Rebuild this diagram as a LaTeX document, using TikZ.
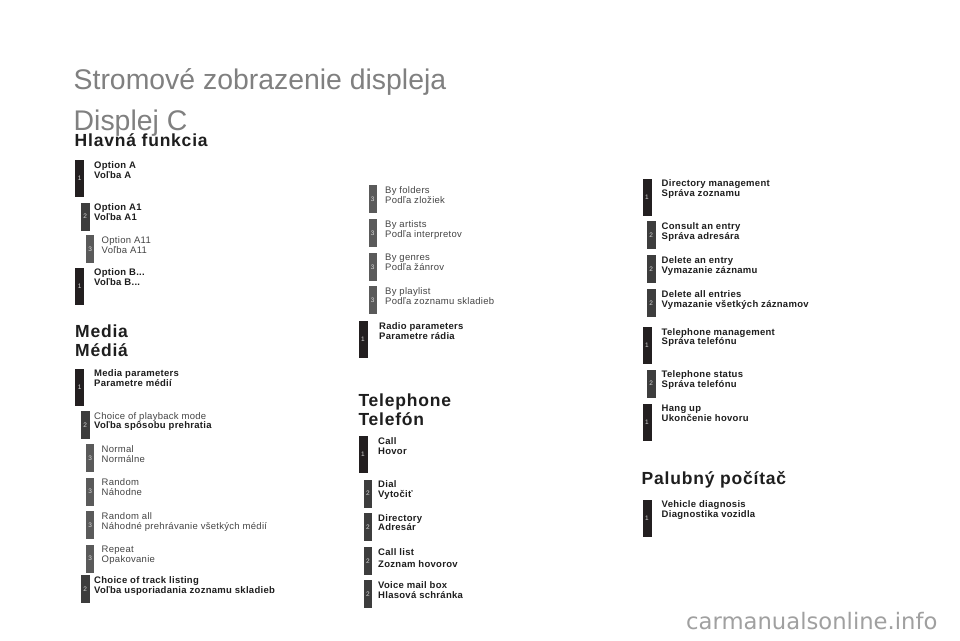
\documentclass[tikz,border=0pt]{standalone}
\usepackage{fontspec}
\setmainfont{Liberation Sans}
\newfontfamily\itemfont[LetterSpace=3]{Liberation Sans}
\newfontfamily\headfont[LetterSpace=4.5]{Liberation Sans}
\newfontfamily\markfont{DejaVu Sans}
\definecolor{barone}{HTML}{231F20}
\definecolor{bartwo}{HTML}{3D3D3D}
\definecolor{barthree}{HTML}{5A5A5A}
\definecolor{numgray}{HTML}{D6D6D6}
\definecolor{txtbold}{HTML}{1E1E1E}
\definecolor{txtreg}{HTML}{444444}
\definecolor{titlegray}{HTML}{808080}
\definecolor{markgray}{HTML}{A0A0A0}
\newcommand\mitem[8]{%
  \node[#2] (#1) at (#4,#5) {#3};
  \node[#7] (#1t) at (#6,#5+1.3) {#8};
}
\begin{document}
\begin{tikzpicture}[x=1pt,y=-1pt,
  barbase/.style={anchor=north west, inner sep=0pt, text=numgray,
    font=\fontsize{6.5}{7}\selectfont},
  lvlone/.style={barbase, fill=barone, minimum width=9pt, minimum height=37pt},
  lvltwo/.style={barbase, fill=bartwo, minimum width=8.7pt, minimum height=28pt},
  lvlthree/.style={barbase, fill=barthree, minimum width=8.5pt, minimum height=28pt},
  itemb/.style={anchor=north west, inner sep=0pt, align=left, text=txtbold,
    font=\itemfont\bfseries\fontsize{9.5}{9.7}\selectfont},
  itemr/.style={anchor=north west, inner sep=0pt, align=left, text=txtreg,
    font=\itemfont\fontsize{9.5}{9.7}\selectfont},
  titletxt/.style={anchor=base west, inner sep=0pt, text=titlegray,
    font=\fontsize{28.4}{30}\selectfont},
  headtxt/.style={anchor=base west, inner sep=0pt, text=txtbold,
    font=\headfont\bfseries\fontsize{17.5}{19}\selectfont},
  marktxt/.style={anchor=base west, inner sep=0pt, text=markgray,
    font=\markfont\fontsize{22.7}{24}\selectfont}
]
\fill[white] (0,0) rectangle (960,640);
\useasboundingbox (0,0) rectangle (960,640);

% titles
\node[titletxt] (title1) at (73.5,89) {Stromové zobrazenie displeja};
\node[titletxt] (title2) at (73.5,130) {Displej C};

% headings
\node[headtxt] (hmain) at (74.5,146) {Hlavná funkcia};
\node[headtxt] (hmedia1) at (75,337.3) {Media};
\node[headtxt] (hmedia2) at (75,356) {Médiá};
\node[headtxt] (htel1) at (358.3,406.7) {Telephone};
\node[headtxt] (htel2) at (358.3,425.7) {Telefón};
\node[headtxt] (hpc) at (641.5,484) {Palubný počítač};

% left column
\mitem{optA}{lvlone}{1}{75}{160}{94}{itemb}{Option A\\Voľba A}
\mitem{optAone}{lvltwo}{2}{80.6}{202.3}{94}{itemb}{Option A1\\Voľba A1}
\mitem{optAoneone}{lvlthree}{3}{85.7}{235}{101.5}{itemr}{Option A11\\Voľba A11}
\mitem{optB}{lvlone}{1}{75}{267.3}{94}{itemb}{Option B...\\Voľba B...}
\mitem{mediaparam}{lvlone}{1}{75}{368.3}{94}{itemb}{Media parameters\\Parametre médií}
\mitem{playback}{lvltwo}{2}{80.6}{410.7}{94}{itemr}{Choice of playback mode\\{\bfseries\color{txtbold}Voľba spôsobu prehratia}}
\mitem{normal}{lvlthree}{3}{85.7}{444}{101.5}{itemr}{Normal\\Normálne}
\mitem{random}{lvlthree}{3}{85.7}{477.3}{101.5}{itemr}{Random\\Náhodne}
\mitem{randomall}{lvlthree}{3}{85.7}{511}{101.5}{itemr}{Random all\\Náhodné prehrávanie všetkých médií}
\mitem{repeatit}{lvlthree}{3}{85.7}{544.3}{101.5}{itemr}{Repeat\\Opakovanie}
\mitem{tracklist}{lvltwo}{2}{80.6}{575}{94}{itemb}{Choice of track listing\\Voľba usporiadania zoznamu skladieb}

% middle column
\mitem{folders}{lvlthree}{3}{368.3}{185}{385}{itemr}{By folders\\Podľa zložiek}
\mitem{artists}{lvlthree}{3}{368.3}{219}{385}{itemr}{By artists\\Podľa interpretov}
\mitem{genres}{lvlthree}{3}{368.3}{252.7}{385}{itemr}{By genres\\Podľa žánrov}
\mitem{playlist}{lvlthree}{3}{368.3}{286}{385}{itemr}{By playlist\\Podľa zoznamu skladieb}
\mitem{radio}{lvlone}{1}{358.3}{321}{379}{itemb}{Radio parameters\\Parametre rádia}
\mitem{call}{lvlone}{1}{358.3}{436}{378}{itemb}{Call\\Hovor}
\mitem{dial}{lvltwo}{2}{363.3}{479.3}{378}{itemb}{Dial\\Vytočiť}
\mitem{directory}{lvltwo}{2}{363.3}{512.7}{378}{itemb}{Directory\\Adresár}
\mitem{calllist}{lvltwo}{2}{363.3}{546.7}{378}{itemb}{Call list\\[3pt]Zoznam hovorov}
\mitem{voicemail}{lvltwo}{2}{363.3}{580}{378}{itemb}{Voice mail box\\Hlasová schránka}

% right column
\mitem{dirmgmt}{lvlone}{1}{642.3}{178.3}{661.5}{itemb}{Directory management\\Správa zoznamu}
\mitem{consult}{lvltwo}{2}{646.7}{221}{661.5}{itemb}{Consult an entry\\Správa adresára}
\mitem{delentry}{lvltwo}{2}{646.7}{255}{661.5}{itemb}{Delete an entry\\Vymazanie záznamu}
\mitem{delall}{lvltwo}{2}{646.7}{289}{661.5}{itemb}{Delete all entries\\Vymazanie všetkých záznamov}
\mitem{telmgmt}{lvlone}{1}{642.3}{326.7}{661.5}{itemb}{Telephone management\\Správa telefónu}
\mitem{telstatus}{lvltwo}{2}{646.7}{369.3}{661.5}{itemb}{Telephone status\\Správa telefónu}
\mitem{hangup}{lvlone}{1}{642.3}{403.3}{661.5}{itemb}{Hang up\\Ukončenie hovoru}
\mitem{vehicle}{lvlone}{1}{642.3}{499.3}{661.5}{itemb}{Vehicle diagnosis\\Diagnostika vozidla}

% watermark
\node[marktxt] (mark) at (686,629.3) {carmanualsonline.info};
\end{tikzpicture}
\end{document}
